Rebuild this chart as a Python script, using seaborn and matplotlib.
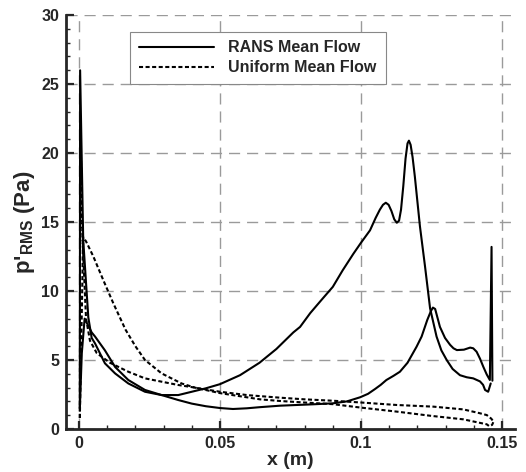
import numpy as np
import pandas as pd
import matplotlib
matplotlib.use("Agg")
import matplotlib.pyplot as plt
from matplotlib.lines import Line2D
from matplotlib.ticker import MultipleLocator
import seaborn as sns

# RANS mean flow, branch with the 26 Pa leading-edge spike (rises to the 21 Pa peak)
rans_a_x = [0.0003, 0.0004, 0.0015, 0.0033, 0.0045, 0.0057, 0.0092, 0.0128, 0.0175, 0.0234,
            0.0293, 0.0352, 0.040, 0.045, 0.050, 0.0571, 0.064, 0.070, 0.076, 0.0784, 0.082,
            0.0845, 0.0866, 0.090, 0.0935, 0.0973, 0.100, 0.1032, 0.1052, 0.1067, 0.1078,
            0.1088, 0.1098, 0.1108, 0.1118, 0.1127, 0.1135, 0.1142, 0.1150, 0.1158, 0.1165,
            0.1170, 0.1176, 0.1183, 0.1191, 0.1209, 0.1227, 0.1245, 0.1268, 0.1285, 0.1304,
            0.1325, 0.1351, 0.1375, 0.1398, 0.1422, 0.1433, 0.144, 0.1451, 0.146]
rans_a_y = [1.5, 26.0, 13.7, 8.1, 6.6, 6.2, 4.76, 4.03, 3.3, 2.7,
            2.46, 2.46, 2.7, 2.95, 3.25, 3.9, 4.8, 5.8, 7.0, 7.4, 8.4,
            9.0, 9.5, 10.3, 11.5, 12.7, 13.5, 14.4, 15.3, 15.9, 16.25,
            16.4, 16.25, 15.8, 15.2, 14.95, 15.1, 15.9, 17.6, 19.6, 20.7,
            20.9, 20.6, 19.7, 18.3, 14.7, 11.8, 8.75, 6.7, 5.7, 5.0,
            4.35, 3.9, 3.75, 3.67, 3.45, 3.2, 2.83, 2.7, 3.3]

# RANS mean flow, branch with the 8 Pa leading-edge peak (dips to the 1.45 Pa minimum)
rans_b_x = [0.0003, 0.001, 0.002, 0.003, 0.0045, 0.0057, 0.0092, 0.0128, 0.0175, 0.0234,
            0.0293, 0.0352, 0.040, 0.045, 0.050, 0.0546, 0.0595, 0.064, 0.0713, 0.083,
            0.090, 0.095, 0.0997, 0.1025, 0.105, 0.107, 0.109, 0.1115, 0.1138, 0.1165,
            0.1197, 0.1215, 0.1235, 0.1248, 0.1255, 0.1263, 0.128, 0.1298, 0.1316, 0.1328,
            0.134, 0.1365, 0.1387, 0.1398, 0.141, 0.1422, 0.1434, 0.1446, 0.1457, 0.1463, 0.1466]
rans_b_y = [1.5, 5.5, 8.0, 7.6, 7.0, 6.7, 5.7, 4.5, 3.55, 2.83,
            2.46, 2.1, 1.84, 1.65, 1.52, 1.45, 1.5, 1.58, 1.69, 1.79,
            1.86, 2.0, 2.3, 2.55, 2.9, 3.2, 3.55, 3.85, 4.15, 4.8,
            5.96, 6.7, 7.9, 8.55, 8.8, 8.7, 7.4, 6.6, 6.1, 5.85,
            5.72, 5.75, 5.9, 5.85, 5.6, 5.1, 4.5, 3.95, 3.55, 13.2, 3.5]

# Uniform mean flow, branch with the 22 Pa spike
unif_a_x = [0.0003, 0.0005, 0.0012, 0.0025, 0.0039, 0.0063, 0.011, 0.0175, 0.0234, 0.0293,
            0.0352, 0.0411, 0.050, 0.060, 0.0713, 0.080, 0.090, 0.100, 0.1127, 0.1257,
            0.1363, 0.142, 0.1446, 0.1462, 0.147]
unif_a_y = [0.8, 22.0, 14.0, 8.0, 6.4, 5.5, 4.8, 4.15, 3.67, 3.43,
            3.19, 3.0, 2.7, 2.45, 2.27, 2.15, 2.05, 1.92, 1.74, 1.62,
            1.42, 1.15, 1.01, 0.75, 0.53]

# Uniform mean flow, branch with the 14 Pa peak
unif_b_x = [0.0003, 0.0015, 0.0025, 0.0051, 0.0086, 0.0122, 0.0165, 0.020, 0.0234, 0.0293,
            0.0364, 0.0411, 0.050, 0.0642, 0.0713, 0.080, 0.090, 0.100, 0.1127, 0.125,
            0.1363, 0.1446, 0.1455, 0.1465, 0.147]
unif_b_y = [0.8, 13.9, 13.6, 12.5, 10.8, 9.1, 7.2, 6.0, 5.0, 4.03,
            3.3, 3.0, 2.6, 2.15, 2.03, 1.92, 1.8, 1.55, 1.26, 0.95,
            0.7, 0.34, 0.2, 0.3, 0.53]

x_ticks = [0, 0.05, 0.1, 0.15]
x_tick_labels = ["0", "0.05", "0.1", "0.15"]
y_ticks = [0, 5, 10, 15, 20, 25, 30]

branches = [
    ("RANS Mean Flow", "upper", rans_a_x, rans_a_y),
    ("RANS Mean Flow", "lower", rans_b_x, rans_b_y),
    ("Uniform Mean Flow", "upper", unif_a_x, unif_a_y),
    ("Uniform Mean Flow", "lower", unif_b_x, unif_b_y),
]
df = pd.concat([pd.DataFrame({"x": bx, "p": by, "case": case, "branch": case + br})
                for case, br, bx, by in branches], ignore_index=True)

sns.set_style("ticks")
plt.rcParams['font.family'] = ['Liberation Sans', 'DejaVu Sans']
plt.rcParams['font.weight'] = 'bold'
plt.rcParams['mathtext.fontset'] = 'custom'
plt.rcParams['mathtext.bf'] = 'Liberation Sans:bold'
plt.rcParams['mathtext.rm'] = 'Liberation Sans:bold'

fig = plt.figure(figsize=(5.26, 4.72), dpi=100)
ax = fig.add_axes([0.1255, 0.0911, 0.979 - 0.1255, 0.968 - 0.0911])

dot_style = (0, (1.95, 1.2))
styles = {"RANS Mean Flow": "-", "Uniform Mean Flow": dot_style}
for key, sub in df.groupby("branch", sort=False):
    case = sub["case"].iloc[0]
    sns.lineplot(data=sub, x="x", y="p", ax=ax, sort=False, estimator=None,
                 color="black", lw=1.5, linestyle=styles[case], legend=False, zorder=3,
                 solid_joinstyle="round")

ax.set_xlim(-0.0046, 0.1546)
ax.set_ylim(0, 30)
ax.set_xticks(x_ticks)
ax.set_xticklabels(x_tick_labels)
ax.set_yticks(y_ticks)
ax.xaxis.set_minor_locator(MultipleLocator(0.01))
ax.yaxis.set_minor_locator(MultipleLocator(1))
ax.tick_params(which="major", direction="in", length=6, width=1.6, labelsize=11.5, pad=5)
ax.tick_params(which="minor", direction="in", length=3, width=1.0)
for lab in ax.get_xticklabels() + ax.get_yticklabels():
    lab.set_fontweight("bold")

ax.grid(True, which="major", color="#9a9a9a", lw=1.0, linestyle=(0, (8, 5)))
sns.despine(ax=ax)
for s in ["left", "bottom"]:
    ax.spines[s].set_linewidth(2.0)

ax.set_xlabel("x (m)", fontsize=14, fontweight="bold", labelpad=1)
ax.set_ylabel(r"p'$_{\mathbf{RMS}}$ (Pa)", fontsize=16, fontweight="bold", labelpad=3)

handles = [Line2D([], [], color="black", lw=1.5, linestyle="-"),
           Line2D([], [], color="black", lw=1.5, linestyle=dot_style)]
leg = ax.legend(handles, ["RANS Mean Flow", "Uniform Mean Flow"], loc="upper left",
                bbox_to_anchor=(0.143, 0.96), borderaxespad=0, fancybox=False,
                edgecolor="#888888", framealpha=1, handlelength=4.7, handletextpad=0.9,
                labelspacing=0.3, borderpad=0.55,
                prop={"weight": "bold", "size": 11.5})
leg.get_frame().set_linewidth(0.8)

fig.savefig("out.png", dpi=100)
